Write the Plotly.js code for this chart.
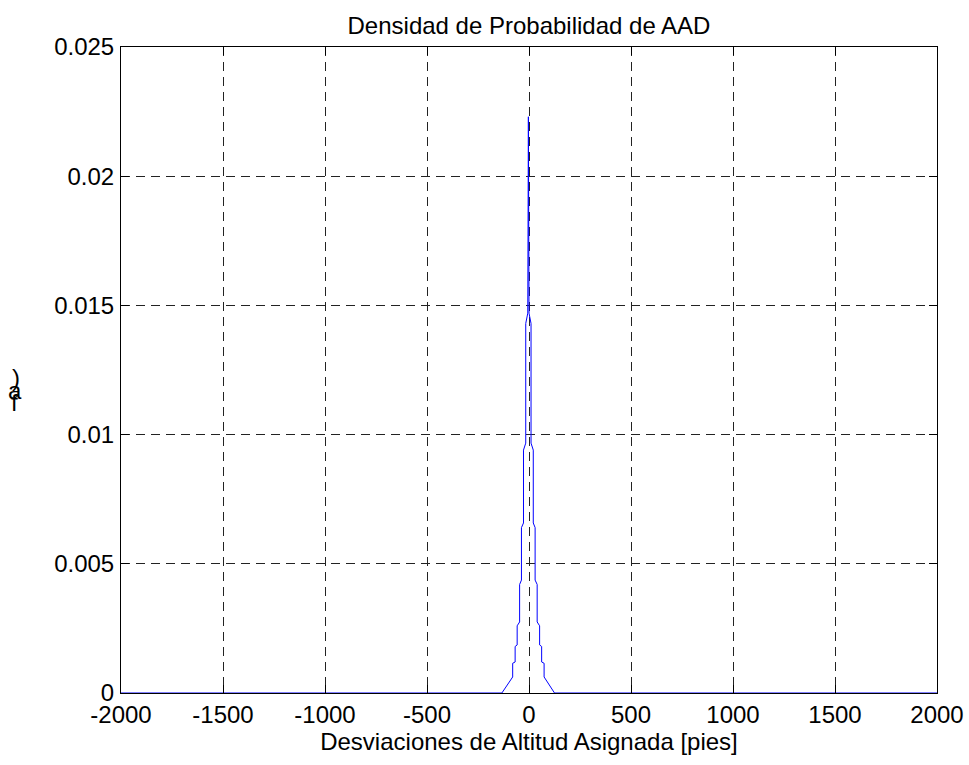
<!DOCTYPE html>
<html>
<head>
<meta charset="utf-8">
<script src="https://cdn.plot.ly/plotly-3.0.1.min.js"></script>
<style>html,body{margin:0;padding:0;background:#fff;}#chart{width:969px;height:765px;}</style>
</head>
<body>
<div id="chart"></div>
<script>
// Data (AAD density, feet)
const desviacion = [-2000, -133, -80, -80, -68, -68, -58, -58, -46, -46, -37, -37, -27, -27, -16, -16, -6, -3,
                    0, 10, 10, 21, 21, 30, 30, 40, 40, 52, 52, 62, 62, 74, 74, 125, 2000];
const densidad = [0, 0, 0.00062, 0.00115, 0.0012, 0.0018, 0.00186, 0.0026, 0.00275, 0.0042, 0.00437, 0.0064, 0.00658, 0.0094, 0.00967, 0.0143, 0.0147, 0.0223,
                  0.0147, 0.0143, 0.00967, 0.0094, 0.00658, 0.0064, 0.00437, 0.0042, 0.00275, 0.0026, 0.00186, 0.0018, 0.0012, 0.00115, 0.00062, 0, 0];
const xTickVals = [-2000, -1500, -1000, -500, 0, 500, 1000, 1500, 2000];
const xTickText = ['-2000', '-1500', '-1000', '-500', '0', '500', '1000', '1500', '2000'];
const yTickVals = [0, 0.005, 0.01, 0.015, 0.02, 0.025];
const yTickText = ['0', '0.005', '0.01', '0.015', '0.02', '0.025'];
const titulo = 'Densidad de Probabilidad de AAD';
const tituloX = 'Desviaciones de Altitud Asignada [pies]';
const etiquetaY = [')', 'a', 'f'];

const font = {family: 'Liberation Sans, Arial, sans-serif', size: 24, color: '#000'};
const axisCommon = {
  showline: true, linecolor: '#000', linewidth: 1, mirror: 'ticks',
  ticks: 'inside', ticklen: 8, tickcolor: '#000', tickwidth: 1,
  showgrid: true, gridcolor: '#222', gridwidth: 1, griddash: '9px,6px',
  zeroline: false, tickfont: font, fixedrange: true
};
const yLabelPos = [[16, 377], [15, 391], [15, 403]];
const layout = {
  width: 969, height: 765,
  margin: {l: 121, r: 32, t: 47, b: 72},
  paper_bgcolor: '#fff', plot_bgcolor: '#fff',
  showlegend: false,
  font: font,
  title: {text: titulo, font: font, x: 0.5, xref: 'paper', xanchor: 'center', y: 1 - 26/765, yref: 'container', yanchor: 'middle'},
  xaxis: Object.assign({}, axisCommon, {
    range: [-2000, 2000], tickvals: xTickVals, ticktext: xTickText,
    ticklabelstandoff: 0,
    title: {text: tituloX, font: font, standoff: 6}
  }),
  yaxis: Object.assign({}, axisCommon, {
    range: [0, 0.025], tickvals: yTickVals, ticktext: yTickText,
    ticklabelstandoff: 1
  }),
  annotations: etiquetaY.map((t, i) => ({
    text: t, xref: 'paper', yref: 'paper',
    x: (yLabelPos[i][0] - 121) / 816, y: (693 - yLabelPos[i][1]) / 646,
    showarrow: false, font: font, xanchor: 'center', yanchor: 'middle'
  }))
};
const trace = {
  x: desviacion, y: densidad, type: 'scatter', mode: 'lines',
  line: {color: '#0000FF', width: 1}, hoverinfo: 'skip'
};
Plotly.newPlot('chart', [trace], layout, {staticPlot: true, displayModeBar: false});
</script>
</body>
</html>
